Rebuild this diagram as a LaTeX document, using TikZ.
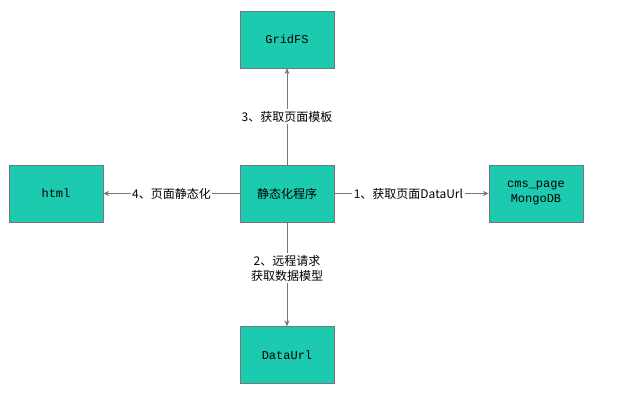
\documentclass[tikz,border=0pt]{standalone}
\usepackage{fontspec}
\setmonofont{Liberation Mono}
\newfontfamily\cjk{Noto Sans CJK SC}
\usetikzlibrary{arrows.meta}
\definecolor{boxteal}{HTML}{1CCAB0}
\definecolor{edgegray}{HTML}{777777}
\tikzset{
  box/.style={draw=edgegray,fill=boxteal,minimum width=94pt,minimum height=57pt,inner sep=0pt,font=\fontsize{12}{15}\selectfont\ttfamily,align=center},
  link/.style={draw=edgegray,line width=0.8pt,-{Stealth[length=6pt,width=5pt]}},
  lbl/.style={fill=white,inner sep=1.5pt,font=\fontsize{12}{15}\selectfont\cjk,align=center}
}
\begin{document}
\begin{tikzpicture}[x=1pt,y=-1pt]
\useasboundingbox (0,0) rectangle (625,400);
\node[box] (prog) at (287,193.5) {{\cjk 静态化程序}};
\node[box] (grid) at (287,39.5) {GridFS};
\node[box] (html) at (56,193.5) {html};
\node[box] (cms) at (536,193.5) {cms\_page\\MongoDB};
\node[box] (data) at (287,355) {DataUrl};
%\node[box] (tmp) at (0,0) {};
\draw[link] (prog) -- node[lbl,pos=0.5]{3、获取页面模板} (grid);
\draw[link] (prog) -- node[lbl,pos=0.5]{4、页面静态化} (html);
\draw[link] (prog) -- node[lbl,pos=0.48]{1、获取页面DataUrl} (cms);
\draw[link] (prog) -- node[lbl,pos=0.44]{2、远程请求\\获取数据模型} (data);
\end{tikzpicture}
\end{document}
